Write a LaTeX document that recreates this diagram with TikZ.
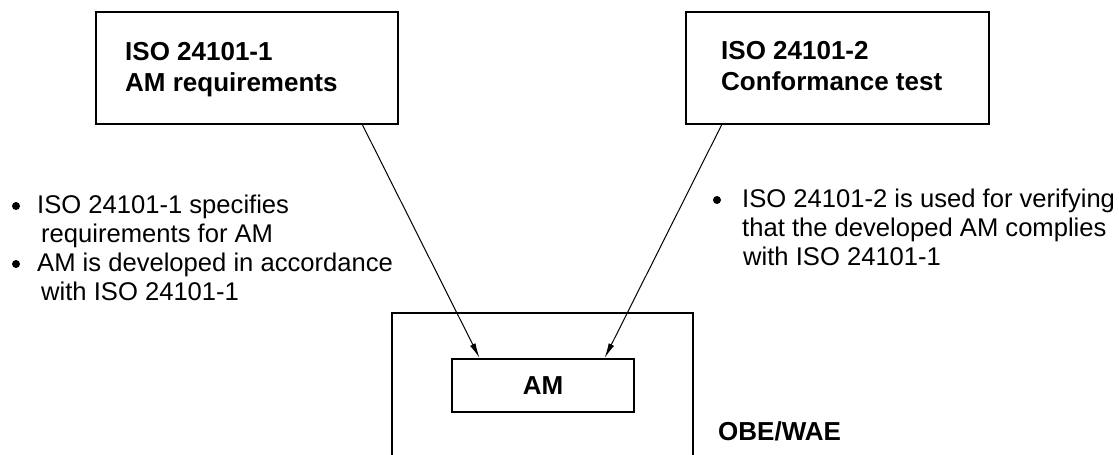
\documentclass[tikz,border=0pt]{standalone}
\usepackage{fontspec}
\setmainfont{Liberation Sans}
\usetikzlibrary{arrows.meta,calc}
\begin{document}
\begin{tikzpicture}[x=1pt,y=-1pt,
  box/.style={draw, line width=2pt, inner sep=0pt},
  ttl/.style={font=\fontsize{26}{30}\selectfont\bfseries, anchor=base west, inner sep=0pt},
  txt/.style={font=\fontsize{25.6}{29}\selectfont, anchor=base west, inner sep=0pt},
  arr/.style={line width=1pt, -{Latex[length=15pt,width=6pt]}},
  bdot/.style={circle, fill, inner sep=0pt, minimum size=8pt}]
\useasboundingbox (0,0) rectangle (1119,455);
% top boxes
\node[box, minimum width=302pt, minimum height=112pt] (b1) at (247,68) {};
\node[box, minimum width=303pt, minimum height=112pt] (b2) at (837.5,68) {};
\node[ttl] (t1a) at (125,60) {ISO 24101-1};
\node[ttl] (t1b) at (125,91) {AM requirements};
\node[ttl] (t2a) at (721,59) {ISO 24101-2};
\node[ttl] (t2b) at (721,90) {Conformance test};
% OBE/WAE frame (open at bottom)
\coordinate (fbl) at (392,455);
\coordinate (ftl) at (392,313);
\coordinate (ftr) at (693,313);
\coordinate (fbr) at (693,455);
\draw[line width=2pt] (fbl) -- (ftl) -- (ftr) -- (fbr);
\node[ttl] (obe) at (718,440) {OBE/WAE};
% AM box
\node[box, minimum width=182pt, minimum height=53pt, font=\fontsize{26}{30}\selectfont\bfseries] (am) at (543,385.5) {AM};
% arrows
\draw[arr] ($(b1.south west)!0.88!(b1.south east)$) -- ($(am.north west)!0.155!(am.north east)$);
\draw[arr] ($(b2.south west)!0.12!(b2.south east)$) -- ($(am.north west)!0.835!(am.north east)$);
% left bullets
\node[bdot] (d1) at (16,206) {};
\node[txt] (l1) at (37,213) {ISO 24101-1 specifies};
\node[txt] (l2) at (41,242) {requirements for AM};
\node[bdot] (d2) at (16,264) {};
\node[txt] (l3) at (37,271) {AM is developed in accordance};
\node[txt] (l4) at (41,300) {with ISO 24101-1};
% right bullets
\node[bdot] (d3) at (717,200) {};
\node[txt] (r1) at (742,207) {ISO 24101-2 is used for verifying};
\node[txt] (r2) at (742,236) {that the developed AM complies};
\node[txt] (r3) at (743,265) {with ISO 24101-1};
\end{tikzpicture}
\end{document}
